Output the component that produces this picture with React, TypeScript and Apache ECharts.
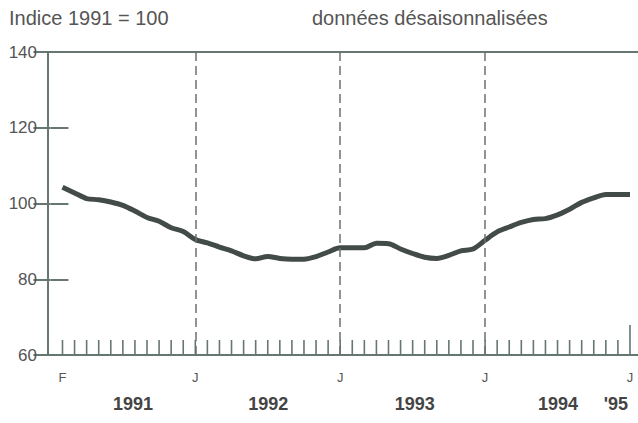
import React, { useEffect, useRef } from "react";
import * as echarts from "echarts";

const months = [
  "1991-02", "1991-03", "1991-04", "1991-05", "1991-06", "1991-07", "1991-08", "1991-09", "1991-10", "1991-11", "1991-12", "1992-01",
  "1992-02", "1992-03", "1992-04", "1992-05", "1992-06", "1992-07", "1992-08", "1992-09", "1992-10", "1992-11", "1992-12", "1993-01",
  "1993-02", "1993-03", "1993-04", "1993-05", "1993-06", "1993-07", "1993-08", "1993-09", "1993-10", "1993-11", "1993-12", "1994-01",
  "1994-02", "1994-03", "1994-04", "1994-05", "1994-06", "1994-07", "1994-08", "1994-09", "1994-10", "1994-11", "1994-12", "1995-01",
];

const indexValues = [
  104.3, 102.8, 101.3, 101.0, 100.4, 99.5, 98.0, 96.3, 95.3, 93.6, 92.6, 90.5,
  89.6, 88.5, 87.5, 86.2, 85.4, 86.0, 85.5, 85.3, 85.3, 86.0, 87.2, 88.3,
  88.3, 88.3, 89.5, 89.4, 88.0, 86.8, 85.8, 85.5, 86.3, 87.5, 88.0, 90.3,
  92.5, 93.8, 95.0, 95.8, 96.0, 97.0, 98.5, 100.3, 101.5, 102.4, 102.4, 102.4,
];

const monthTickLabels = ["1991-02", "1992-01", "1993-01", "1994-01", "1995-01"];
const monthTickText = ["F", "J", "J", "J", "J"];
const januaryLines = ["1992-01", "1993-01", "1994-01"];
const yearLabels = ["1991", "1992", "1993", "1994", "'95"];
const yTicks = [60, 80, 100, 120, 140];

const titleLeft = "Indice 1991 = 100";
const titleRight = "données désaisonnalisées";

// month index counted from January 1991
const idx = (s: string) => {
  const [y, m] = s.split("-").map(Number);
  return (y - 1991) * 12 + (m - 1);
};

export default function App() {
  const ref = useRef<HTMLDivElement>(null);
  useEffect(() => {
    if (!ref.current) return;
    const chart = echarts.init(ref.current, null, { renderer: "svg" });
    const frame = "#66776f";
    const textColor = "#555";
    const font = "Liberation Sans, Arial, sans-serif";
    const monthPos = monthTickLabels.map(idx);
    // year label centres, in month units
    const yearPos = [6.84, 18.04, 30.17, 42.04, 46.84];
    const xMin = -0.2;
    const xMax = 48.83;

    chart.setOption({
      animation: false,
      backgroundColor: "#fff",
      title: [
        { text: titleLeft, left: 9, top: 8, padding: 0, textStyle: { fontFamily: font, fontSize: 20, fontWeight: "normal", color: textColor } },
        { text: titleRight, left: 312, top: 8, padding: 0, textStyle: { fontFamily: font, fontSize: 20, fontWeight: "normal", color: textColor } },
      ],
      grid: {
        left: 48, top: 52, right: 5, bottom: 68,
        show: true, borderColor: frame, borderWidth: 2, backgroundColor: "transparent",
      },
      xAxis: [
        {
          type: "value", min: xMin, max: xMax,
          axisLine: { show: false }, axisTick: { show: false }, splitLine: { show: false },
          axisLabel: {
            customValues: monthPos,
            formatter: (v: number) => {
              const i = monthPos.findIndex((p) => Math.abs(p - v) < 1e-6);
              return i >= 0 ? monthTickText[i] : "";
            },
            margin: 16, fontFamily: font, fontSize: 13, color: textColor,
          },
        },
        {
          type: "value", min: xMin, max: xMax, position: "bottom", offset: 28,
          axisLine: { show: false }, axisTick: { show: false }, splitLine: { show: false },
          axisLabel: {
            customValues: yearPos,
            formatter: (v: number) => {
              const i = yearPos.findIndex((p) => Math.abs(p - v) < 1e-6);
              return i >= 0 ? yearLabels[i] : "";
            },
            margin: 12, fontFamily: font, fontSize: 18, fontWeight: "bold", color: "#444",
          },
        },
      ],
      yAxis: [
        {
          type: "value", min: yTicks[0], max: yTicks[yTicks.length - 1], interval: 20, position: "left",
          axisLine: { show: false }, splitLine: { show: false },
          axisTick: { show: true, inside: true, length: 18, lineStyle: { color: frame, width: 2 } },
          axisLabel: { margin: 11, fontFamily: font, fontSize: 17, color: textColor },
        },
        {
          type: "value", min: yTicks[0], max: yTicks[yTicks.length - 1], interval: 20, position: "right",
          axisLine: { show: false }, splitLine: { show: false },
          axisTick: { show: true, inside: true, length: 17, lineStyle: { color: frame, width: 2 } },
          axisLabel: { show: false },
        },
      ],
      series: [
        {
          type: "custom",
          xAxisIndex: 0, yAxisIndex: 0,
          silent: true,
          data: months.map((m) => [idx(m)]),
          renderItem: (params: any, api: any) => {
            const m = api.value(0);
            const p = api.coord([m, 60]);
            const len = m === 48 ? 30 : 15;
            return {
              type: "line",
              shape: { x1: p[0], y1: p[1], x2: p[0], y2: p[1] - len },
              style: { stroke: frame, lineWidth: 1.6 },
            };
          },
        },
        {
          type: "line",
          xAxisIndex: 0, yAxisIndex: 0,
          data: months.map((m, i) => [idx(m), indexValues[i]]),
          showSymbol: false,
          smooth: 0.3,
          lineStyle: { color: "#424b48", width: 5, cap: "butt", join: "round" },
          markLine: {
            silent: true,
            symbol: ["none", "none"],
            label: { show: false },
            lineStyle: { color: "#6b706e", width: 1.5, type: [9, 5] },
            data: januaryLines.map((s) => ({ xAxis: idx(s) })),
          },
          z: 3,
        },
      ],
    });
    return () => chart.dispose();
  }, []);

  return (
    <div style={{ position: "absolute", left: 0, top: 0, width: 638, height: 423, overflow: "hidden", background: "#fff" }}>
      <div ref={ref} style={{ width: 645, height: 423 }} />
    </div>
  );
}
